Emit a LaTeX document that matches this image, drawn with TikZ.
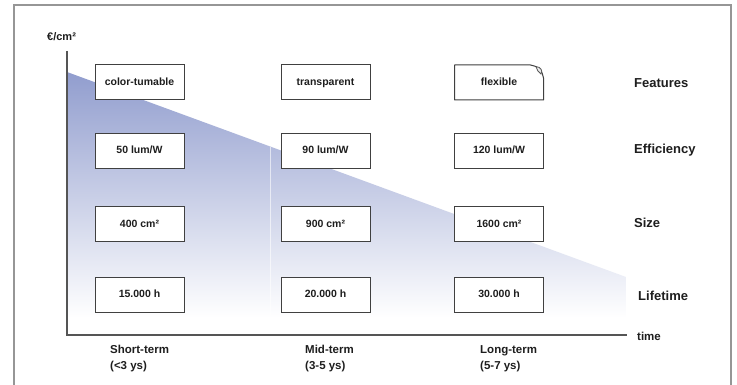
\documentclass[tikz,border=0pt]{standalone}
\usepackage{fontspec}
\setmainfont{Liberation Sans}
\definecolor{frame}{RGB}{150,150,150}
\definecolor{shadeblue}{RGB}{145,157,206}
\definecolor{axis}{RGB}{85,85,85}
\definecolor{txt}{RGB}{30,30,30}
\tikzset{
  valbox/.style={draw=black!75, line width=1pt, fill=white, minimum width=89pt, minimum height=35pt, inner sep=0pt, text height=7.6pt, text depth=2.2pt, font=\fontsize{10.5}{12}\selectfont\bfseries, text=txt},
  rowlab/.style={anchor=west, inner sep=0pt, font=\fontsize{13}{15}\selectfont\bfseries, text=txt},
  collab/.style={anchor=north west, inner sep=0pt, align=left, font=\fontsize{11.5}{16}\selectfont\bfseries, text=txt},
}
\begin{document}
\begin{tikzpicture}[x=1pt,y=-1pt]
\useasboundingbox (0,0) rectangle (737,385);
\fill[white] (0,0) rectangle (737,385);
% frame
\draw[frame, line width=2pt] (14,386) -- (14,5) -- (731,5) -- (731,386);
% shaded area
\begin{scope}
\clip (67,72) -- (626,277) -- (626,335) -- (67,335) -- cycle;
\shade[top color=shadeblue, bottom color=white] (67,72) rectangle (626,318);
\end{scope}
\draw[white, opacity=0.6, line width=0.8pt] (270,147) -- (270,334);
% axes
\coordinate (ytop) at (67,51);
\coordinate (origin) at (67,335);
\coordinate (xend) at (627,335);
\draw[axis, line width=1.2pt] (ytop) -- (origin) -- (xend);
\node[anchor=west, inner sep=0pt, font=\fontsize{11}{13}\selectfont\bfseries, text=txt] (unit) at (47,37) {€/cm²};
% boxes
\node[valbox] (f1) at (139.5,82.5) {color-tumable};
\node[valbox] (f2) at (325.5,82.5) {transparent};
% flexible box with curled corner
\coordinate (fnw) at (454.5,65);
\coordinate (fne1) at (530.5,65);
\coordinate (fne2) at (543.5,78);
\coordinate (fse) at (543.5,100);
\coordinate (fsw) at (454.5,100);
\draw[black!75, line width=1pt, line join=round, fill=white]
  (fnw) -- (fne1) .. controls (537,65.5) and (543,71) .. (fne2)
  -- (fse) -- (fsw) -- cycle;
\draw[black!65, line width=0.8pt, fill=black!8] (536,66.5) .. controls (541,67) and (543,71) .. (541,74) .. controls (538,72) and (537,70) .. (536,66.5);
\node[valbox, draw=none, fill=none] (f3) at (499,82.5) {flexible};
\node[valbox] (e1) at (139.5,151) {50 lum/W};
\node[valbox] (e2) at (325.5,151) {90 lum/W};
\node[valbox] (e3) at (499,151) {120 lum/W};
\node[valbox] (s1) at (139.5,224.5) {400 cm²};
\node[valbox] (s2) at (325.5,224.5) {900 cm²};
\node[valbox] (s3) at (499,224.5) {1600 cm²};
\node[valbox] (l1) at (139.5,294.5) {15.000 h};
\node[valbox] (l2) at (325.5,294.5) {20.000 h};
\node[valbox] (l3) at (499,294.5) {30.000 h};
% row labels
\node[rowlab] (features) at (634,83) {Features};
\node[rowlab] (efficiency) at (634,150) {Efficiency};
\node[rowlab] (size) at (634,223) {Size};
\node[rowlab] (lifetime) at (638,296) {Lifetime};
\node[rowlab, font=\fontsize{11.5}{13}\selectfont\bfseries] (time) at (637,336) {time};
% column labels
\node[collab] (short) at (110,345) {Short-term\\(<3 ys)};
\node[collab] (mid) at (305,345) {Mid-term\\(3-5 ys)};
\node[collab] (long) at (480,345) {Long-term\\(5-7 ys)};
\end{tikzpicture}
\end{document}
